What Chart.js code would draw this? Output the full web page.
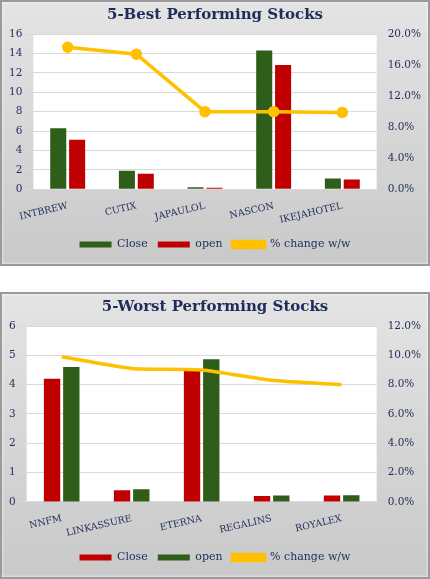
<!DOCTYPE html>
<html><head><meta charset="utf-8">
<script src="https://cdn.jsdelivr.net/npm/chart.js@4"></script>
<style>
body{margin:0;background:#fff;width:430px;height:579px;position:relative;overflow:hidden}
.p{position:absolute;left:0;width:426px;background:linear-gradient(#e4e4e4,#c9c9c9);border:2px solid #9a9a9a;box-shadow:inset 0 0 3px #fff}
canvas{display:block}
</style></head><body>
<div class="p" style="top:0;height:262px"><canvas id="c1"></canvas></div>
<div class="p" style="top:292px;height:283px"><canvas id="c2"></canvas></div>
<script>
const bestCats=["INTBREW","CUTIX","JAPAULOL","NASCON","IKEJAHOTEL"];
const bestClose=[6.3,1.9,0.2,14.3,1.1];
const bestOpen=[5.1,1.6,0.15,12.8,1.0];
const bestPct=[18.3,17.4,10.0,10.0,9.9];
const worstCats=["NNFM","LINKASSURE","ETERNA","REGALINS","ROYALEX"];
const worstClose=[4.2,0.4,4.5,0.2,0.22];
const worstOpen=[4.6,0.43,4.87,0.22,0.23];
const worstPct=[9.9,9.1,9.0,8.3,8.0];
const GREEN='#2e5e1a',RED='#c00000',GOLD='#ffc000',NAVY='#1f2d5a';
const F="'DejaVu Serif', 'Liberation Serif', serif";
const bg={id:'bg',beforeDraw(c){const a=c.chartArea,x=c.ctx;x.save();x.fillStyle='#fff';x.fillRect(a.left,a.top,a.right-a.left,a.bottom-a.top);x.restore();}};
function mk(id,h,title,cats,d1,c1,d2,c2,pct,ymax,pmax,points,tension){
 const el=document.getElementById(id);el.width=426;el.height=h;el.style.width='426px';el.style.height=h+'px';
 new Chart(el,{data:{labels:cats,datasets:[
  {type:'bar',label:'Close',data:d1,backgroundColor:c1,yAxisID:'y',order:2,barPercentage:0.85,categoryPercentage:0.55},
  {type:'bar',label:'open',data:d2,backgroundColor:c2,yAxisID:'y',order:2,barPercentage:0.85,categoryPercentage:0.55},
  {type:'line',label:'% change w/w',data:pct,borderColor:GOLD,backgroundColor:GOLD,borderWidth:3.5,pointRadius:points?4:0,tension:tension,yAxisID:'y1',order:1}
 ]},options:{responsive:false,animation:false,
  layout:{padding:{left:4,right:4,top:0,bottom:4}},
  plugins:{title:{display:true,text:title,color:NAVY,font:{family:F,size:15,weight:'bold'},padding:{top:4,bottom:10}},
   legend:{position:'bottom',labels:{color:NAVY,font:{family:F,size:11},boxWidth:32,boxHeight:6,padding:10,sort:(a,b)=>a.datasetIndex-b.datasetIndex}}},
  scales:{x:{grid:{display:false},border:{display:false},ticks:{color:NAVY,font:{family:F,size:9.5}}},
   y:{min:0,max:ymax,ticks:{stepSize:ymax/(ymax>8?8:6),color:NAVY,font:{family:F,size:10.5}},grid:{color:'#d9d9d9'},border:{display:false}},
   y1:{position:'right',min:0,max:pmax,ticks:{stepSize:2,color:NAVY,font:{family:F,size:10.5},callback:v=>v.toFixed(1)+'%'},grid:{display:false},border:{display:false}}}},
  plugins:[bg]});
}
mk('c1',262,'5-Best Performing Stocks',bestCats,bestClose,GREEN,bestOpen,RED,bestPct,16,20,true,0);
mk('c2',283,'5-Worst Performing Stocks',worstCats,worstClose,RED,worstOpen,GREEN,worstPct,6,12,false,0.2);
</script></body></html>
